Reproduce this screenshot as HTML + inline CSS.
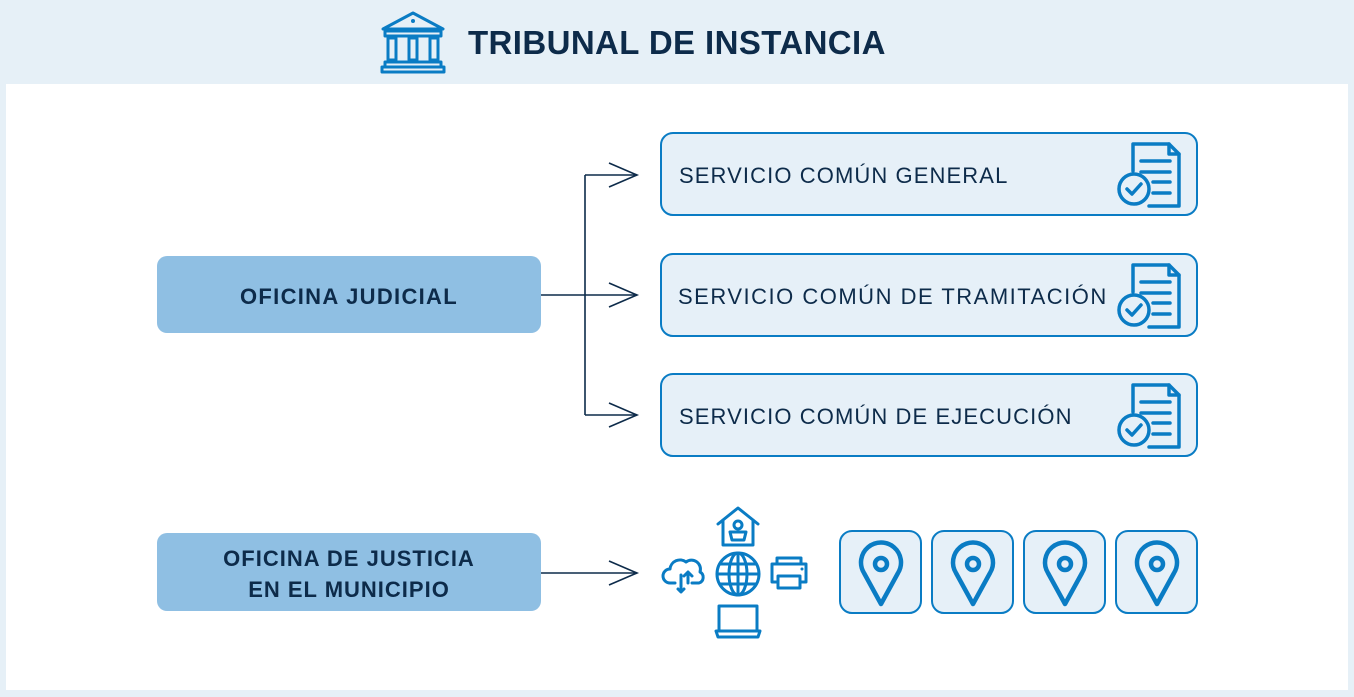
<!DOCTYPE html>
<html><head><meta charset="utf-8"><style>
html,body{margin:0;padding:0;background:#e6f0f7}
svg{display:block}
text{font-family:"Liberation Sans",sans-serif}
</style></head><body>
<svg width="1354" height="697" viewBox="0 0 1354 697" xmlns="http://www.w3.org/2000/svg">
<defs>
<g id="doc" fill="none" stroke="#0a7cc4" stroke-width="3.5" stroke-linejoin="round" stroke-linecap="round">
<path d="M-30,-3 V-30 H6 L16,-20 V32 H-14"/>
<path d="M6,-30 V-20 H16"/>
<path d="M-22,-13 H7 M-22,-2 H7 M-10,8 H7 M-10,19 H7"/>
<circle cx="-29" cy="15" r="15" fill="#e6f0f8"/>
<path d="M-36,15 L-31,20 L-22,10"/>
</g>
<g id="pin" fill="none" stroke="#0a7cc4" stroke-width="4.5" stroke-linejoin="round">
<path d="M0,31 L-17,0 A20,20 0 1 1 17,0 Z"/>
<circle cx="0" cy="-9" r="6"/>
</g>
<g id="arr" fill="none" stroke="#0d2b4a" stroke-width="1.6"><path d="M-28,-12 L0,0 L-28,12"/></g>
</defs>
<rect x="0" y="0" width="1354" height="697" fill="#e6f0f7"/>
<rect x="6" y="84" width="1342" height="606" fill="#fff"/>
<g fill="none" stroke="#0a7cc4" stroke-width="3" stroke-linejoin="round">
<path d="M383,29 L413,13 L443,29 Z"/>
<rect x="385" y="31" width="56" height="5"/>
<rect x="388" y="38" width="8" height="22"/><rect x="409" y="38" width="8" height="22"/><rect x="430" y="38" width="8" height="22"/>
<rect x="385" y="62" width="56" height="5"/>
<rect x="382" y="67" width="62" height="5"/>
</g>
<circle cx="413" cy="21" r="2" fill="#0a7cc4"/>
<text x="468" y="54" font-size="33" font-weight="bold" fill="#0d2b4a" letter-spacing="0.4">TRIBUNAL DE INSTANCIA</text>
<rect x="157" y="256" width="384" height="77" rx="10" fill="#8fbfe3"/>
<text x="349" y="304" font-size="22" font-weight="bold" fill="#0d2b4a" text-anchor="middle" letter-spacing="1.3">OFICINA JUDICIAL</text>
<rect x="157" y="533" width="384" height="78" rx="10" fill="#8fbfe3"/>
<text x="349" y="566" font-size="22" font-weight="bold" fill="#0d2b4a" text-anchor="middle" letter-spacing="1">OFICINA DE JUSTICIA</text>
<text x="349" y="597" font-size="22" font-weight="bold" fill="#0d2b4a" text-anchor="middle" letter-spacing="1">EN EL MUNICIPIO</text>
<g stroke="#0d2b4a" stroke-width="1.6" fill="none">
<path d="M541,295 H637 M585,175 V415 M585,175 H637 M585,415 H637 M541,573 H637"/>
</g>
<use href="#arr" x="637" y="175"/><use href="#arr" x="637" y="295"/><use href="#arr" x="637" y="415"/><use href="#arr" x="637" y="573"/>
<g fill="#e6f0f8" stroke="#0a7cc4" stroke-width="2">
<rect x="661" y="133" width="536" height="82" rx="12"/>
<rect x="661" y="254" width="536" height="82" rx="12"/>
<rect x="661" y="374" width="536" height="82" rx="12"/>
</g>
<g font-size="22" fill="#0d2b4a" letter-spacing="1.1">
<text x="679" y="183">SERVICIO COMÚN GENERAL</text>
<text x="678" y="304" letter-spacing="1.5">SERVICIO COMÚN DE TRAMITACIÓN</text>
<text x="679" y="424">SERVICIO COMÚN DE EJECUCIÓN</text>
</g>
<use href="#doc" x="1163" y="174"/><use href="#doc" x="1163" y="295"/><use href="#doc" x="1163" y="415"/>
<g fill="#e6f0f8" stroke="#0a7cc4" stroke-width="2">
<rect x="840" y="531" width="81" height="82" rx="12"/>
<rect x="932" y="531" width="81" height="82" rx="12"/>
<rect x="1024" y="531" width="81" height="82" rx="12"/>
<rect x="1116" y="531" width="81" height="82" rx="12"/>
</g>
<use href="#pin" x="881" y="573"/><use href="#pin" x="973" y="573"/><use href="#pin" x="1065" y="573"/><use href="#pin" x="1157" y="573"/>
<g fill="none" stroke="#0a7cc4" stroke-width="3" stroke-linejoin="round" stroke-linecap="round">
<path d="M718,524 L738,508 L758,524 M723,520 V545 H753 V520"/>
<circle cx="738" cy="525" r="4"/><path d="M730,532 H746 L744,540 H732 Z"/>
<circle cx="738" cy="574" r="21"/><ellipse cx="738" cy="574" rx="9" ry="21"/><path d="M738,553 V595 M717,574 H759 M720,564 H756 M720,584 H756"/>
<path d="M777,564 V558 H801 V564 M772,564 H806 V582 H801 M777,582 H772 V564 M778,576 H800 V588 H778 Z"/>
<path d="M719,606 H757 V631 H719 Z M716,631 H760 L758,637 H718 Z"/>
<path d="M675,583 H670 A7,7 0 0 1 670,569 A10,10 0 0 1 686,562 A9,9 0 0 1 700,572 A6,6 0 0 1 699,583 H692"/>
<path d="M688,583 V572 L684,576 M688,572 L692,576 M681,575 V592 L678,589 M681,592 L684,589"/>
</g>
<circle cx="802" cy="569" r="1.5" fill="#0a7cc4"/>
</svg>
</body></html>
